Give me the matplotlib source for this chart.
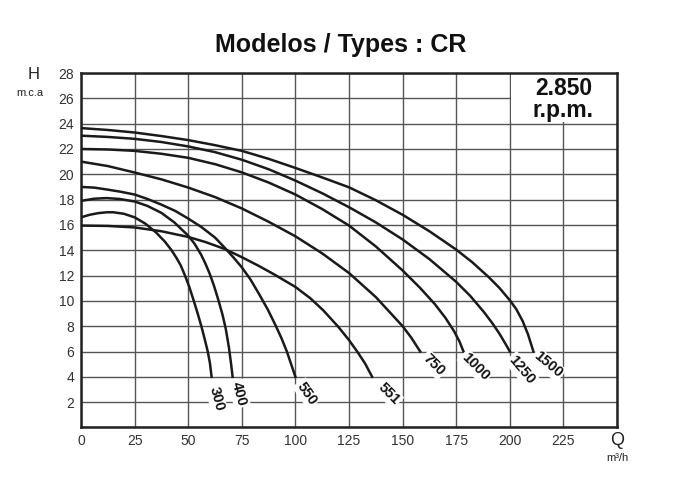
import numpy as np
import matplotlib
matplotlib.use('Agg')
import matplotlib.pyplot as plt
from matplotlib.patches import Rectangle

plt.rcParams['font.family'] = ['Liberation Sans', 'DejaVu Sans']

# curve data (Q in m3/h, H in m.c.a)
q_300 = [0, 4, 8, 12, 15, 20, 25, 30, 35, 39, 42, 44.5, 46.5, 48.5, 50.5, 52.6, 54.5, 56.2, 57.8, 59.1, 60.1, 60.9]
h_300 = [16.6, 16.8, 16.93, 17.0, 17.0, 16.88, 16.6, 16.1, 15.4, 14.7, 14.05, 13.4, 12.8, 12.0, 11.1, 10.0, 8.95, 7.95, 6.9, 6.0, 5.1, 4.0]

q_400 = [0, 6, 12, 18, 25, 31, 37.5, 43.5, 50, 53, 56, 58, 60, 62, 64, 66, 67.5, 69, 70, 70.7]
h_400 = [17.9, 18.07, 18.12, 18.05, 17.85, 17.5, 16.95, 16.2, 15.15, 14.5, 13.65, 12.95, 12.15, 11.2, 10.1, 8.9, 7.8, 6.3, 5.0, 4.0]

q_550 = [0, 6, 12, 18.5, 25, 31, 37.5, 44, 50, 56, 62.5, 67, 71, 75, 79, 83, 87, 90.5, 93.5, 96, 98, 100]
h_550 = [19.0, 18.95, 18.8, 18.62, 18.4, 18.05, 17.6, 17.1, 16.5, 15.85, 15.0, 14.2, 13.45, 12.65, 11.7, 10.55, 9.35, 8.15, 7.05, 6.0, 5.0, 4.0]

q_551 = [0, 12.5, 25, 37.5, 50, 58, 67, 75, 82.5, 90, 100, 107, 113, 120, 125, 129, 132.5, 135.8]
h_551 = [15.95, 15.92, 15.8, 15.5, 15.05, 14.65, 14.1, 13.45, 12.8, 12.1, 11.1, 10.2, 9.25, 7.95, 6.9, 5.95, 5.05, 4.0]

q_750 = [0, 12.5, 25, 37.5, 50, 62.5, 75, 87.5, 100, 112.5, 125, 137.5, 150, 154, 158.2]
h_750 = [21.0, 20.65, 20.14, 19.6, 18.95, 18.2, 17.3, 16.25, 15.1, 13.75, 12.2, 10.3, 8.0, 7.1, 6.0]

q_1000 = [0, 12.5, 25, 37.5, 50, 62.5, 75, 87.5, 100, 112.5, 125, 137.5, 150, 158, 165, 170, 174, 176.5, 178.4]
h_1000 = [22.0, 21.96, 21.85, 21.62, 21.3, 20.8, 20.15, 19.35, 18.4, 17.25, 15.95, 14.3, 12.4, 11.05, 9.75, 8.65, 7.6, 6.8, 6.0]

q_1250 = [0, 12.5, 25, 37.5, 50, 62.5, 75, 87.5, 100, 112.5, 125, 137.5, 150, 162.5, 175, 181.5, 188, 192, 195, 198, 200]
h_1250 = [23.05, 22.95, 22.8, 22.55, 22.2, 21.75, 21.15, 20.4, 19.5, 18.5, 17.4, 16.2, 14.85, 13.3, 11.5, 10.4, 9.1, 8.2, 7.45, 6.6, 6.0]

q_1500 = [0, 12.5, 25, 37.5, 50, 62.5, 75, 87.5, 100, 112.5, 125, 137.5, 150, 162.5, 175, 182.5, 190, 195, 200, 203, 206, 208.5, 211]
h_1500 = [23.65, 23.5, 23.3, 23.02, 22.7, 22.3, 21.85, 21.22, 20.5, 19.75, 18.97, 17.95, 16.8, 15.5, 14.05, 13.05, 11.9, 11.05, 10.05, 9.35, 8.4, 7.35, 6.0]

curves = [('300', q_300, h_300), ('400', q_400, h_400), ('550', q_550, h_550),
          ('551', q_551, h_551), ('750', q_750, h_750), ('1000', q_1000, h_1000),
          ('1250', q_1250, h_1250), ('1500', q_1500, h_1500)]

# label positions (Q, H, angle)
label_pos = {'300': (63.2, 2.25, -75), '400': (73.8, 2.65, -75),
             '550': (105.2, 2.7, -55), '551': (143.5, 2.65, -45),
             '750': (164.4, 4.95, -45), '1000': (183.8, 4.8, -45),
             '1250': (205.5, 4.55, -50), '1500': (217.8, 4.95, -40)}

x_ticks = [0, 25, 50, 75, 100, 125, 150, 175, 200, 225]
y_ticks = [2, 4, 6, 8, 10, 12, 14, 16, 18, 20, 22, 24, 26, 28]

fig = plt.figure(figsize=(6.77, 4.90), dpi=100)
ax = fig.add_axes([0.1197, 0.1276, 0.7917, 0.7234])

ax.set_xlim(0, 250)
ax.set_ylim(0, 28)
ax.set_xticks(np.arange(0, 251, 25))
ax.set_yticks(np.arange(0, 29, 2))
ax.set_xticklabels([str(t) if t in x_ticks else '' for t in range(0, 251, 25)])
ax.set_yticklabels([str(t) if t in y_ticks else '' for t in range(0, 29, 2)])
ax.tick_params(length=0, labelsize=10, colors='#333333', pad=5)
ax.set_axisbelow(True)
ax.grid(True, color='#555555', linewidth=1.0)
for s in ax.spines.values():
    s.set_linewidth(1.8)
    s.set_color('#222222')

# rpm box
ax.add_patch(Rectangle((200.6, 24.1), 49.4, 3.9, facecolor='white',
                       edgecolor='none', zorder=1.5))
ax.text(225, 26.8, '2.850', ha='center', va='center', fontsize=16.5,
        fontweight='bold', color='#111111', zorder=3)
ax.text(225, 25.0, 'r.p.m.', ha='center', va='center', fontsize=16.5,
        fontweight='bold', color='#111111', zorder=3)

for name, q, h in curves:
    ax.plot(q, h, color='#1a1a1a', linewidth=1.8, zorder=3,
            solid_joinstyle='round')
    lx, ly, ang = label_pos[name]
    ax.text(lx, ly, name, rotation=ang, ha='center', va='center',
            fontsize=10.5, fontweight='bold', color='#111111', zorder=4,
            rotation_mode='anchor',
            bbox=dict(facecolor='white', edgecolor='none', pad=1.0))

fig.text(0.503, 0.908, 'Modelos / Types : CR', ha='center', va='center',
         fontsize=18, fontweight='bold', color='#111111')
fig.text(0.049, 0.847, 'H', ha='center', va='center', fontsize=12, color='#222222')
fig.text(0.044, 0.81, 'm.c.a', ha='center', va='center', fontsize=8, color='#222222')
fig.text(0.912, 0.101, 'Q', ha='center', va='center', fontsize=13, color='#222222')
fig.text(0.912, 0.065, 'm\u00b3/h', ha='center', va='center', fontsize=8, color='#222222')

fig.savefig('out.png', dpi=100)
